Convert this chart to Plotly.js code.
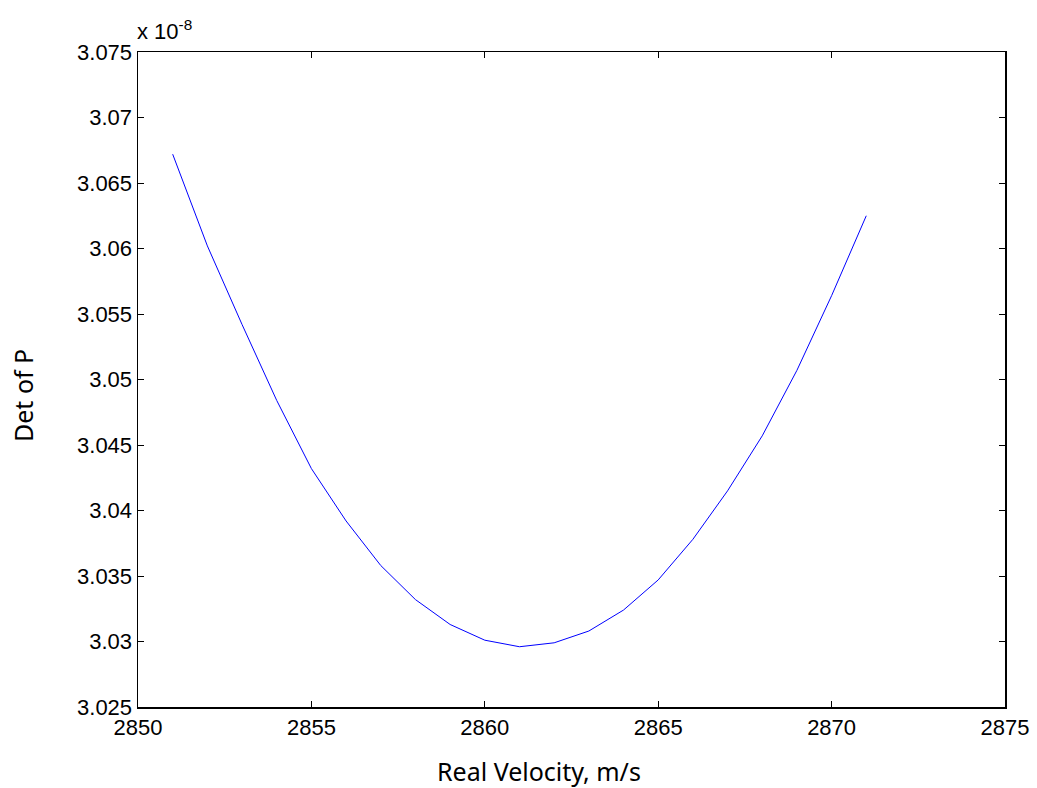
<!DOCTYPE html>
<html>
<head>
<meta charset="utf-8">
<script src="https://cdn.plot.ly/plotly-3.0.1.min.js"></script>
<style>html,body{margin:0;padding:0;background:#fff;}</style>
</head>
<body>
<div id="chart" style="width:1037px;height:788px;"></div>
<script>
// Real velocity (m/s)
const velocity = [2851, 2852, 2853, 2854, 2855, 2856, 2857, 2858, 2859, 2860, 2861,
                  2862, 2863, 2864, 2865, 2866, 2867, 2868, 2869, 2870, 2871];
// Det of P, in units of 1e-8
const detP = [3.0672, 3.0602, 3.0542, 3.0484, 3.0432, 3.0392, 3.0358, 3.0332, 3.0313, 3.0301, 3.0296,
              3.0299, 3.0308, 3.0324, 3.0347, 3.0378, 3.0415, 3.0457, 3.0507, 3.0564, 3.0625];
const xTicks = [2850, 2855, 2860, 2865, 2870, 2875];
const yTicks = [3.025, 3.03, 3.035, 3.04, 3.045, 3.05, 3.055, 3.06, 3.065, 3.07, 3.075];
const yTickLabels = ['3.025','3.03','3.035','3.04','3.045','3.05','3.055','3.06','3.065','3.07','3.075'];

const trace = {
  x: velocity, y: detP, type: 'scatter', mode: 'lines',
  line: {color: '#0000ff', width: 1}, hoverinfo: 'none'
};
const tickFont = {family: 'Liberation Sans, Arial, sans-serif', size: 22, color: '#000'};
const titleFont = {family: 'Noto Sans, Open Sans, sans-serif', size: 25, color: '#000'};
const layout = {
  width: 1037, height: 788,
  margin: {l: 138, r: 32, t: 52, b: 81},
  paper_bgcolor: '#fff', plot_bgcolor: '#fff',
  showlegend: false,
  xaxis: {
    range: [2850, 2875], tickvals: xTicks, ticktext: xTicks.map(String),
    ticks: 'inside', ticklen: 6, tickcolor: '#000', tickwidth: 1,
    showline: true, linecolor: '#000', linewidth: 1.5, mirror: 'ticks',
    showgrid: false, zeroline: false, tickfont: tickFont
  },
  yaxis: {
    range: [3.025, 3.075], tickvals: yTicks, ticktext: yTickLabels,
    ticks: 'inside', ticklen: 6, tickcolor: '#000', tickwidth: 1,
    showline: true, linecolor: '#000', linewidth: 1.5, mirror: 'ticks',
    showgrid: false, zeroline: false, tickfont: tickFont
  },
  annotations: [
    {
      text: 'x 10<sup>-8</sup>', xref: 'paper', yref: 'paper', x: 0, y: 1,
      xanchor: 'left', yanchor: 'bottom', showarrow: false, xshift: -3, yshift: 6,
      font: {family: 'Liberation Sans, Arial, sans-serif', size: 22, color: '#000'}
    },
    {
      text: 'Real Velocity, m/s', xref: 'paper', yref: 'paper',
      x: (538.5 - 138) / 867, y: 0, xanchor: 'center', yanchor: 'top',
      yshift: -45, showarrow: false, font: titleFont
    },
    {
      text: 'Det of P', xref: 'paper', yref: 'paper', textangle: -90,
      x: (23 - 138) / 867, y: (707 - 396) / 655, xanchor: 'center', yanchor: 'middle',
      showarrow: false, font: titleFont
    }
  ]
};
Plotly.newPlot('chart', [trace], layout, {displayModeBar: false, staticPlot: true});
</script>
</body>
</html>
